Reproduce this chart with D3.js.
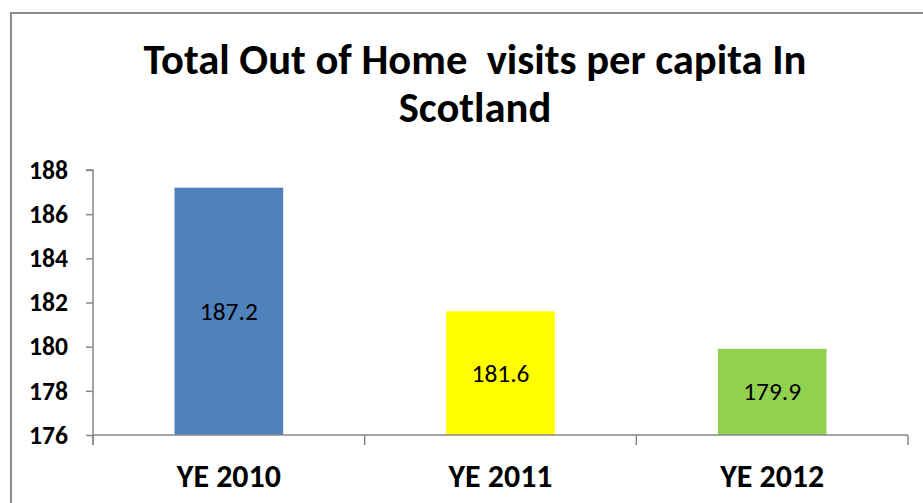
<!DOCTYPE html>
<html>
<head>
<meta charset="utf-8">
<script src="https://cdn.jsdelivr.net/npm/d3@7"></script>
<style>
  html, body { margin: 0; padding: 0; background: #fff; overflow: hidden; }
  svg { display: block; }
  text { font-family: Carlito, Calibri, Lato, "Open Sans", sans-serif; fill: #000; }
</style>
</head>
<body>
<svg id="chart" width="923" height="503"></svg>
<script>
// Chart data
const categories = ["YE 2010", "YE 2011", "YE 2012"];
const values = [187.2, 181.6, 179.9];
const barColors = ["#4f81bd", "#ffff00", "#92d050"];
const yTicks = [176, 178, 180, 182, 184, 186, 188];
const titleLines = ["Total Out of Home  visits per capita In", "Scotland"];

const W = 923, H = 503;
const plot = { left: 93, right: 908, top: 170, bottom: 435 };
const axisColor = "#878787";

const svg = d3.select("#chart");

// Size a text element's font so its rendered width matches a target width
function fitFont(sel, target, start) {
  sel.style("font-size", start + "px");
  const w = sel.node().getComputedTextLength();
  const size = start * target / w;
  sel.style("font-size", size + "px");
  return size;
}

// Outer chart border (runs off the right and bottom edges)
svg.append("rect")
  .attr("x", 11).attr("y", 13)
  .attr("width", W + 20).attr("height", H + 20)
  .attr("fill", "none")
  .attr("stroke", "#8c8c8c")
  .attr("stroke-width", 2);

// Scales
const x = d3.scaleBand()
  .domain(categories)
  .range([plot.left, plot.right])
  .paddingInner(0.6)
  .paddingOuter(0.3);

const y = d3.scaleLinear()
  .domain([176, 188])
  .range([plot.bottom, plot.top]);

// Title (two lines, keeping the double space)
const t1 = svg.append("text")
  .attr("x", 475).attr("y", 74)
  .attr("text-anchor", "middle")
  .attr("font-weight", "bold")
  .style("white-space", "pre")
  .text(titleLines[0]);
const titleSize = fitFont(t1, 663, 36);
svg.append("text")
  .attr("x", 475).attr("y", 122)
  .attr("text-anchor", "middle")
  .attr("font-weight", "bold")
  .style("font-size", titleSize + "px")
  .text(titleLines[1]);

// Bars
svg.append("g").selectAll("rect")
  .data(values)
  .join("rect")
  .attr("x", (d, i) => x(categories[i]))
  .attr("width", x.bandwidth())
  .attr("y", d => y(d))
  .attr("height", d => y(176) - y(d))
  .attr("fill", (d, i) => barColors[i]);

// Value labels centred inside each bar
const valLabels = svg.append("g").selectAll("text")
  .data(values)
  .join("text")
  .attr("x", (d, i) => x(categories[i]) + x.bandwidth() / 2)
  .attr("y", d => (y(d) + y(176)) / 2)
  .attr("text-anchor", "middle")
  .attr("dominant-baseline", "central")
  .text(d => d.toFixed(1));
const valSize = fitFont(valLabels.filter((d, i) => i === 1), 58, 24);
valLabels.style("font-size", valSize + "px");

// Y axis
const yAxis = svg.append("g")
  .attr("transform", `translate(${plot.left},0)`)
  .call(d3.axisLeft(y).tickValues(yTicks).tickSize(7).tickPadding(18).tickFormat(d3.format("d")));
yAxis.select(".domain").attr("stroke", axisColor).attr("stroke-width", 1.5)
  .attr("d", `M-7,${plot.top}H0V${plot.bottom + 10}`);
yAxis.selectAll(".tick line").attr("stroke", axisColor).attr("stroke-width", 1.5);
yAxis.selectAll(".tick text").attr("font-weight", "bold").attr("font-family", null);
const tickSize = fitFont(yAxis.select(".tick:last-of-type text"), 39, 25);
yAxis.selectAll(".tick text").style("font-size", tickSize + "px");

// X axis: line with tick marks at category boundaries
const xg = svg.append("g");
xg.append("line")
  .attr("x1", plot.left).attr("x2", plot.right)
  .attr("y1", plot.bottom).attr("y2", plot.bottom)
  .attr("stroke", axisColor).attr("stroke-width", 1.5);
const bounds = d3.range(categories.length + 1).map(i => plot.left + i * (plot.right - plot.left) / categories.length);
xg.selectAll(".xt").data(bounds).join("line")
  .attr("x1", d => d).attr("x2", d => d)
  .attr("y1", plot.bottom).attr("y2", plot.bottom + 10)
  .attr("stroke", axisColor).attr("stroke-width", 1.5);

const catLabels = xg.selectAll(".cat").data(categories).join("text")
  .attr("x", d => x(d) + x.bandwidth() / 2)
  .attr("y", 487)
  .attr("text-anchor", "middle")
  .attr("font-weight", "bold")
  .text(d => d);
const catSize = fitFont(catLabels.filter((d, i) => i === 1), 104, 30);
catLabels.style("font-size", catSize + "px");
</script>
</body>
</html>
